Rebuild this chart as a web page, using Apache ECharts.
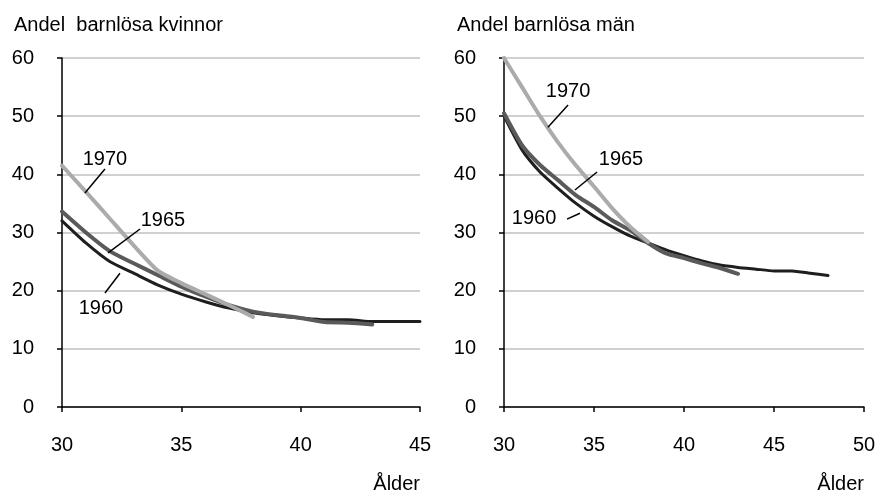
<!DOCTYPE html>
<html>
<head>
<meta charset="utf-8">
<script src="https://cdn.jsdelivr.net/npm/echarts@6/dist/echarts.min.js"></script>
<style>
  html, body { margin: 0; padding: 0; background: #fff; }
  #chart { width: 884px; height: 498px; }
</style>
</head>
<body>
<div id="chart"></div>
<script>
// Andel barnlösa (%) efter ålder, kohorter 1960, 1965, 1970
const agesWomen = [30, 31, 32, 33, 34, 35, 36, 37, 38, 39, 40, 41, 42, 43, 44, 45];
const women1960 = [32, 28.2, 25, 23, 21, 19.4, 18.1, 17, 16.2, 15.7, 15.3, 15, 15, 14.7, 14.7, 14.7];
const women1965 = [33.6, 30, 26.8, 24.7, 22.7, 20.7, 19, 17.5, 16.4, 15.8, 15.3, 14.6, 14.5, 14.2];
const women1970 = [41.5, 37, 32.4, 27.8, 23.5, 21.3, 19.4, 17.5, 15.5];

const agesMen = [30, 31, 32, 33, 34, 35, 36, 37, 38, 39, 40, 41, 42, 43, 44, 45, 46, 47, 48];
const men1960 = [50, 44.2, 40.4, 37.6, 35, 32.8, 31, 29.4, 28.2, 27, 26, 25.1, 24.4, 24, 23.7, 23.4, 23.4, 23, 22.6];
const men1965 = [50.5, 45, 41.6, 39, 36.4, 34.4, 32.1, 30.4, 28.2, 26.4, 25.6, 24.7, 23.9, 22.9];
const men1970 = [60, 55, 50, 45.5, 41.5, 37.9, 34.2, 31, 28.4];

const cohorts = ["1960", "1965", "1970"];
const colors = ["#1e1e1e", "#5a5a5a", "#ababab"];
const widths = [3, 4, 4];

// etiketter med hänvisningslinje (i datakoordinater)
const labelsWomen = [
  { text: "1960", at: [31.63, 17.0], from: [31.8, 19.6], to: [32.43, 23.0] },
  { text: "1965", at: [34.23, 32.0], from: [31.93, 26.5], to: [33.27, 30.6] },
  { text: "1970", at: [31.8, 42.6], from: [30.96, 36.8], to: [31.8, 40.9] }
];
const labelsMen = [
  { text: "1960", at: [31.67, 32.4], from: [33.5, 32.3], to: [34.22, 33.3] },
  { text: "1965", at: [36.5, 42.5], from: [35.17, 40.4], to: [33.94, 37.3] },
  { text: "1970", at: [33.56, 54.2], from: [33.56, 51.9], to: [32.44, 48.1] }
];

const font = "Liberation Sans, Arial, sans-serif";
const fs = 20;

function pairs(ages, vals) {
  return vals.map((v, i) => [ages[i], v]);
}

function makeSeries(idx, ages, lists, labels) {
  return lists.map((vals, k) => ({
    name: cohorts[k],
    type: "line",
    xAxisIndex: idx,
    yAxisIndex: idx,
    data: pairs(ages, vals),
    smooth: 0.2,
    symbol: "none",
    animation: false,
    lineStyle: { color: colors[k], width: widths[k], cap: "round" },
    itemStyle: { color: colors[k] },
    markLine: {
      silent: true,
      symbol: "none",
      animation: false,
      label: { show: false },
      lineStyle: { color: "#000", width: 1.5, type: "solid" },
      data: [[{ coord: labels[k].from }, { coord: labels[k].to }]]
    },
    markPoint: {
      silent: true,
      symbol: "circle",
      symbolSize: 0,
      animation: false,
      label: {
        show: true,
        position: "inside",
        formatter: labels[k].text,
        color: "#000",
        fontSize: fs,
        fontFamily: font
      },
      data: [{ coord: labels[k].at, value: labels[k].text }]
    }
  }));
}

function xAxisOpt(idx, max) {
  return {
    type: "value",
    gridIndex: idx,
    min: 30,
    max: max,
    interval: 5,
    name: "Ålder",
    nameLocation: "end",
    nameGap: 0,
    nameTextStyle: {
      align: "right",
      verticalAlign: "top",
      padding: [67, 0, 0, 0],
      color: "#000",
      fontSize: fs,
      fontFamily: font
    },
    axisLine: { lineStyle: { color: "#000", width: 1.5 } },
    axisTick: { show: true, length: 5, lineStyle: { color: "#000", width: 1.5 } },
    axisLabel: { margin: 28, color: "#000", fontSize: fs, fontFamily: font },
    splitLine: { show: false }
  };
}

function yAxisOpt(idx) {
  return {
    type: "value",
    gridIndex: idx,
    min: 0,
    max: 60,
    interval: 10,
    axisLine: { show: true, lineStyle: { color: "#000", width: 1.5 } },
    axisTick: { show: true, length: 5, lineStyle: { color: "#000", width: 1.5 } },
    axisLabel: { margin: 28, color: "#000", fontSize: fs, fontFamily: font },
    splitLine: { show: true, lineStyle: { color: "#c0c0c0", width: 1.5 } }
  };
}

const chart = echarts.init(document.getElementById("chart"));
chart.setOption({
  backgroundColor: "#fff",
  title: [
    {
      text: "Andel  barnlösa kvinnor",
      left: 9,
      top: 10,
      textStyle: { color: "#000", fontWeight: "normal", fontSize: 20, fontFamily: font }
    },
    {
      text: "Andel barnlösa män",
      left: 452,
      top: 10,
      textStyle: { color: "#000", fontWeight: "normal", fontSize: 20, fontFamily: font }
    }
  ],
  grid: [
    { left: 62, top: 58, width: 358, height: 349 },
    { left: 504, top: 58, width: 360, height: 349 }
  ],
  xAxis: [xAxisOpt(0, 45), xAxisOpt(1, 50)],
  yAxis: [yAxisOpt(0), yAxisOpt(1)],
  series: [
    ...makeSeries(0, agesWomen, [women1960, women1965, women1970], labelsWomen),
    ...makeSeries(1, agesMen, [men1960, men1965, men1970], labelsMen)
  ]
});
</script>
</body>
</html>
